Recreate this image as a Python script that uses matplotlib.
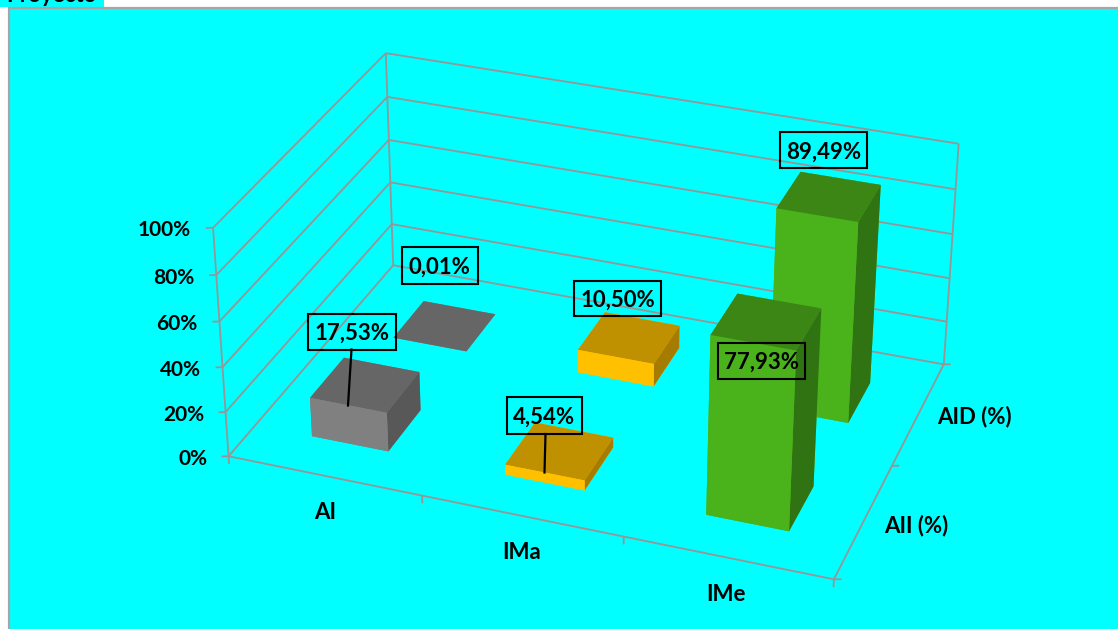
import matplotlib

matplotlib.use("Agg")

import matplotlib.pyplot as plt
from matplotlib.lines import Line2D
from matplotlib.patches import Rectangle
from mpl_toolkits.mplot3d import proj3d

# chart values
categories = ["AI", "IMa", "IMe"]
series_names = ["AII (%)", "AID (%)"]
aii_values = [17.53, 4.54, 77.93]
aid_values = [0.01, 10.50, 89.49]
z_ticks = [0, 20, 40, 60, 80, 100]

W, H = 1118, 629
CYAN = "#00ffff"
GRID = "#969696"
BLACK = "#000000"

# front, top, side of each column
gray_faces = ("#808080", "#666666", "#585858")
orange_faces = ("#ffc000", "#bf9000", "#a67c00")
green_faces = ("#4ab31b", "#3b8615", "#307312")
category_faces = [gray_faces, orange_faces, green_faces]

BAR_SIZE = 0.40
FONT = "Lato"
TICK_SIZE = 15
LABEL_SIZE = 16

plt.rcParams["font.family"] = FONT
plt.rcParams["font.weight"] = "bold"

fig = plt.figure(figsize=(W / 100, H / 100), dpi=100, facecolor="white")


def fx(x):
    return x / W


def fy(y):
    return 1 - y / H


# window behind the chart, its title is cut off by the chart area
fig.add_artist(Rectangle((0, fy(7)), fx(104), 7 / H, transform=fig.transFigure,
                         fc=CYAN, ec="none", zorder=-4))
fig.text(fx(6), fy(2), "Proyecto", fontsize=16, color=BLACK, va="baseline",
         ha="left", zorder=-3)
fig.add_artist(Rectangle((fx(9), -0.1), 1.1, fy(8) + 0.1, transform=fig.transFigure,
                         fc=CYAN, ec="#a6a6a6", lw=1.6, zorder=-2))

# camera fitted to the wall corners of the reference
ax = fig.add_axes([fx(199.2), fy(695.4), fx(771.5), 771.5 / H],
                  projection="3d", computed_zorder=False)
ax.view_init(elev=29.6289, azim=-70.2417, roll=-0.1206)
ax.set_proj_type("persp", focal_length=0.7376)
ax.set_box_aspect((1, 0.6673, 0.4129))
ax.set_xlim(0, 3, view_margin=0)
ax.set_ylim(0, 2, view_margin=0)
ax.set_zlim(0, 100, view_margin=0)
ax.set_axis_off()
ax.patch.set_visible(False)
ax.apply_aspect()
proj_matrix = ax.get_proj()


def wall_line(xs, ys, zs):
    ax.plot(xs, ys, zs, color=GRID, lw=1.3, zorder=1, clip_on=False,
            solid_capstyle="butt")


def axis_text(x, y, z, label, size):
    # axis labels sit outside the box, so place them as figure text
    u, v, _ = proj3d.proj_transform(x, y, z, proj_matrix)
    px, py = ax.transData.transform((u, v))
    fig.text(px / W, py / H, label, ha="right" if label.endswith("%") else "center",
             va="center", fontsize=size, color=BLACK, zorder=5)


for z in z_ticks:
    wall_line([0, 0], [0, 2], [z, z])
    wall_line([0, 3], [2, 2], [z, z])
    # z ticks point straight left on screen
    wall_line([0, -0.03], [0, -0.013], [z, z])
    axis_text(-0.094, -0.04, z - 0.9, f"{z}%", TICK_SIZE)

wall_line([0, 0], [0, 0], [0, 100])
wall_line([0, 0], [2, 2], [0, 100])
wall_line([3, 3], [2, 2], [0, 100])
wall_line([0, 3], [0, 0], [0, 0])
wall_line([3, 3], [0, 2], [0, 0])

for i in range(len(categories) + 1):
    wall_line([i, i], [0, 0], [0, -3.5])
    if i < len(categories):
        axis_text(i + 0.495, 0, -16.7, categories[i], LABEL_SIZE)

series_label_x = [3.236, 3.265]
series_label_y = [0.546, 1.566]
for j in range(len(series_names) + 1):
    wall_line([3, 3.032], [j, j + 0.012], [0, 0])
    if j < len(series_names):
        axis_text(series_label_x[j], series_label_y[j], 0, series_names[j], LABEL_SIZE)


def draw_column(i, j, value, faces):
    front, top, side = faces
    x0 = i + 0.5 - BAR_SIZE / 2
    y0 = j + 0.5 - BAR_SIZE / 2
    # bottom, top, front, back, left, right
    colors = [front, top, front, front, front, side]
    ax.bar3d([x0], [y0], [0], BAR_SIZE, BAR_SIZE, value, color=colors,
             shade=False, edgecolor="none", zorder=3 - j)


# back row first so the front row covers it
for i in range(len(categories)):
    draw_column(i, 1, aid_values[i], category_faces[i])
for i in range(len(categories)):
    draw_column(i, 0, aii_values[i], category_faces[i])


def percent_text(value):
    return f"{value:.2f}%".replace(".", ",")


def data_label(value, left, top, right, bottom):
    fig.add_artist(Rectangle((fx(left), fy(bottom)), fx(right - left),
                             (bottom - top) / H, transform=fig.transFigure,
                             fc="none", ec=BLACK, lw=1.5, zorder=6))
    fig.text(fx((left + right) / 2), fy((top + bottom) / 2 + 1.5), percent_text(value),
             ha="center", va="center", fontsize=LABEL_SIZE, color=BLACK, zorder=6)


data_label(aii_values[0], 308, 314, 396, 349.5)
data_label(aid_values[0], 402, 247, 477.5, 284)
data_label(aid_values[1], 574, 281, 661, 316)
data_label(aii_values[1], 507, 397, 582, 434)
data_label(aid_values[2], 780, 132, 867, 168.5)
data_label(aii_values[2], 718, 342.5, 805, 378.5)

# leader lines from the moved labels back to their columns
for x1, y1, x2, y2 in [(351.5, 349.5, 348, 405.5), (545.5, 434, 544.5, 472.5)]:
    fig.add_artist(Line2D([fx(x1), fx(x2)], [fy(y1), fy(y2)], color=BLACK, lw=1.6,
                          transform=fig.transFigure, zorder=6))

fig.savefig("out.png", dpi=100, facecolor=fig.get_facecolor())
plt.close(fig)
